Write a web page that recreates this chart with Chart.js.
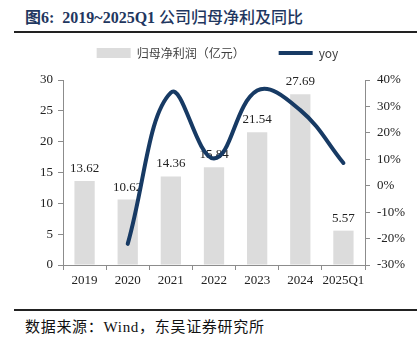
<!DOCTYPE html>
<html>
<head>
<meta charset="utf-8">
<script src="https://cdn.jsdelivr.net/npm/chart.js@4/dist/chart.umd.min.js"></script>
<style>
  html, body { margin: 0; padding: 0; background: #fff; }
  body { width: 419px; height: 344px; position: relative; overflow: hidden; }
  #title { position: absolute; left: 25px; top: 4px; white-space: nowrap; color: #1f3760; font-size: 16px; }
  #title .lat { font-family: "Liberation Serif", serif; font-weight: bold; }
  #title .cjk { font-family: "Noto Sans CJK SC", sans-serif; font-weight: bold; }
  #title .cjk2 { font-family: "Noto Sans CJK SC", sans-serif; font-weight: 500; }
  #rule1 { position: absolute; left: 14px; top: 31px; width: 403px; height: 2px; background: #222; }
  #wrap { position: absolute; left: 0; top: 24px; width: 419px; height: 276px; }
  #rule2 { position: absolute; left: 14px; top: 309px; width: 403px; height: 2px; background: #222; }
  #source { position: absolute; left: 25px; top: 315px; white-space: nowrap; font-size: 15px; letter-spacing: 0.7px; color: #111;
            font-family: "Liberation Serif", "Noto Sans CJK SC", serif; }
</style>
</head>
<body>
<div id="title"><span class="cjk">图</span><span class="lat">6:&nbsp; 2019~2025Q1 </span><span class="cjk2">公司归母净利及同比</span></div>
<div id="rule1"></div>
<div id="wrap"><canvas id="c"></canvas></div>
<div id="rule2"></div>
<div id="source">数据来源：Wind，东吴证券研究所</div>
<script>
// Annual net profit attributable to parent (100m CNY) and its year-on-year growth
const categories = ['2019', '2020', '2021', '2022', '2023', '2024', '2025Q1'];
const netProfit = [13.62, 10.62, 14.36, 15.84, 21.54, 27.69, 5.57];
const yoyGrowth = [null, -22.0, 35.2, 10.3, 36.0, 28.6, 8.6];
const profitTicks = { min: 0, max: 30, step: 5 };
const yoyTicks = { min: -30, max: 40, step: 10 };

const BAR_COLOR = '#dcdcdc';
const LINE_COLOR = '#173a64';
const AXIS_COLOR = '#8c8c8c';
const serif = '"Liberation Serif", "Times New Roman", serif';

// value labels above each bar, drawn before the growth line so the line passes over them
const barValueLabels = {
  id: 'barValueLabels',
  afterDatasetDraw(chart, args) {
    if (args.index !== 0) return;
    const ctx = chart.ctx;
    ctx.save();
    ctx.font = '13px ' + serif;
    ctx.fillStyle = '#222';
    ctx.textAlign = 'center';
    ctx.textBaseline = 'alphabetic';
    args.meta.data.forEach((el, i) => {
      ctx.fillText(netProfit[i].toFixed(2), el.x, el.y - 9);
    });
    ctx.restore();
  }
};

// nudge the legend block slightly right and up from its default slot
const legendNudge = {
  id: 'legendNudge',
  afterLayout(chart) {
    const lg = chart.legend;
    if (!lg) return;
    lg.left += 8; lg.right += 8;
    lg.top -= 11; lg.bottom -= 11;
  }
};

const tickFont = { family: serif, size: 13 };

new Chart(document.getElementById('c'), {
  type: 'bar',
  data: {
    labels: categories,
    datasets: [
      {
        type: 'bar',
        label: '归母净利润（亿元）',
        data: netProfit,
        backgroundColor: BAR_COLOR,
        barPercentage: 0.47,
        categoryPercentage: 1.0,
        yAxisID: 'y',
        order: 2
      },
      {
        type: 'line',
        label: 'yoy',
        data: yoyGrowth,
        borderColor: LINE_COLOR,
        backgroundColor: LINE_COLOR,
        borderWidth: 4,
        borderCapStyle: 'round',
        tension: 0.4,
        pointRadius: 0,
        pointHoverRadius: 0,
        yAxisID: 'y1',
        order: 1
      }
    ]
  },
  options: {
    responsive: true,
    maintainAspectRatio: false,
    animation: false,
    layout: { padding: { top: 0, left: 0, right: 0, bottom: 0 } },
    plugins: {
      tooltip: { enabled: false },
      legend: {
        display: true,
        position: 'top',
        labels: {
          usePointStyle: true,
          pointStyleWidth: 34,
          boxHeight: 10,
          padding: 34,
          color: '#404040',
          font: { family: '"Noto Sans CJK SC", sans-serif', size: 12 },
          generateLabels() {
            return [
              { text: '归母净利润（亿元）', fillStyle: BAR_COLOR, strokeStyle: BAR_COLOR, lineWidth: 0,
                pointStyle: 'rect', datasetIndex: 0, fontColor: '#404040' },
              { text: 'yoy', fillStyle: LINE_COLOR, strokeStyle: LINE_COLOR, lineWidth: 4,
                pointStyle: 'line', datasetIndex: 1, fontColor: '#404040' }
            ];
          }
        }
      }
    },
    scales: {
      x: {
        offset: true,
        grid: { display: true, offset: true, drawOnChartArea: false, drawTicks: true, tickLength: 5, color: AXIS_COLOR },
        border: { display: true, color: AXIS_COLOR },
        ticks: { font: tickFont, color: '#222', padding: 3, maxRotation: 0, autoSkip: false },
        afterFit(s) { s.height = 35; }
      },
      y: {
        position: 'left',
        min: profitTicks.min,
        max: profitTicks.max,
        ticks: { stepSize: profitTicks.step, font: tickFont, color: '#222', padding: 5 },
        grid: { display: true, drawOnChartArea: false, drawTicks: true, tickLength: 5, color: AXIS_COLOR },
        border: { display: true, color: AXIS_COLOR },
        afterFit(s) { s.width = 63; }
      },
      y1: {
        position: 'right',
        min: yoyTicks.min,
        max: yoyTicks.max,
        ticks: { stepSize: yoyTicks.step, font: tickFont, color: '#222', padding: 7,
                 callback: v => v + '%' },
        grid: { display: true, drawOnChartArea: false, drawTicks: true, tickLength: 5, color: AXIS_COLOR },
        border: { display: true, color: AXIS_COLOR },
        afterFit(s) { s.width = 54; }
      }
    }
  },
  plugins: [barValueLabels, legendNudge]
});
</script>
</body>
</html>
